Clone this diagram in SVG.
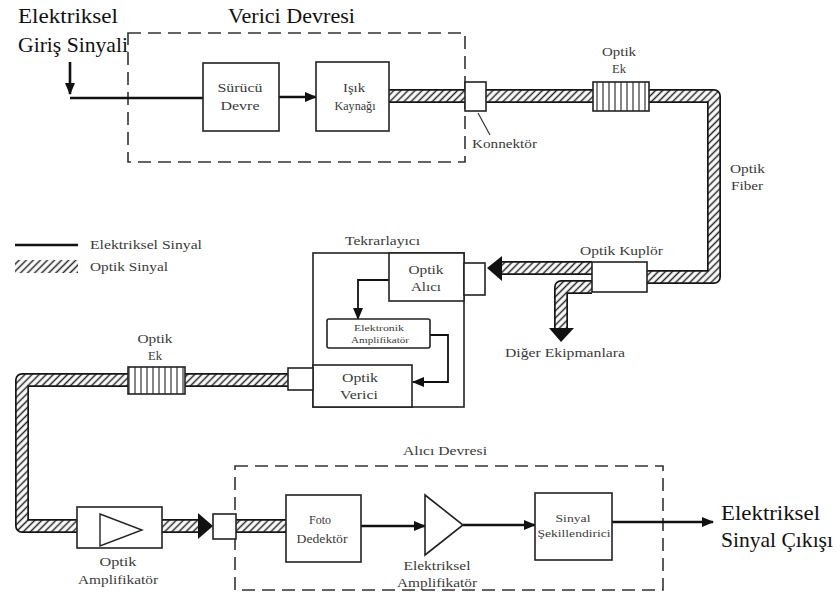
<svg xmlns="http://www.w3.org/2000/svg" width="840" height="597" viewBox="0 0 840 597" font-family="Liberation Serif, DejaVu Serif, serif">
<style>
text{fill:#3a3a3a;font-size:12.5px}
.big{font-size:22px;fill:#111}
.sm{font-size:11.5px;text-anchor:middle}
.mid{text-anchor:middle}
.box{fill:#fff;stroke:#222;stroke-width:1.6}
.dash{fill:none;stroke:#333;stroke-width:1.6;stroke-dasharray:13 7}
.fo{fill:none;stroke:#151515;stroke-width:14;stroke-linejoin:round}
.fi{fill:none;stroke:url(#hatch);stroke-width:10.6;stroke-linejoin:round}
.el{fill:none;stroke:#111;stroke-width:2.6}
.ek{fill:url(#stripes);stroke:#222;stroke-width:1.6}
</style>
<defs>
<pattern id="hatch" patternUnits="userSpaceOnUse" width="5" height="5" patternTransform="rotate(45)">
<rect width="5" height="5" fill="#fff"/>
<line x1="2.5" y1="0" x2="2.5" y2="5" stroke="#222" stroke-width="1.5"/>
</pattern>
<pattern id="stripes" patternUnits="userSpaceOnUse" width="6" height="6">
<rect width="6" height="6" fill="#fff"/>
<line x1="3" y1="0" x2="3" y2="6" stroke="#333" stroke-width="1.2"/>
</pattern>
<marker id="arr" markerUnits="userSpaceOnUse" markerWidth="12" markerHeight="10" refX="11" refY="5" orient="auto">
<path d="M0,0 L12,5 L0,10 Z" fill="#111"/>
</marker>
</defs>

<g id="titles">
<text class="big" x="18" y="23" textLength="100" lengthAdjust="spacingAndGlyphs">Elektriksel</text>
<text class="big" x="18" y="52" textLength="110" lengthAdjust="spacingAndGlyphs">Giriş Sinyali</text>
<text class="big" x="228" y="23" textLength="127" lengthAdjust="spacingAndGlyphs">Verici Devresi</text>
<text class="big" x="721" y="520" textLength="99" lengthAdjust="spacingAndGlyphs">Elektriksel</text>
<text class="big" x="721" y="547" textLength="112" lengthAdjust="spacingAndGlyphs">Sinyal Çıkışı</text>
</g>

<g id="legend">
<line x1="15" y1="245" x2="78" y2="245" stroke="#111" stroke-width="2.6"/>
<rect x="15" y="260" width="63" height="13" fill="url(#hatch)"/>
<text x="90" y="249" textLength="112" lengthAdjust="spacingAndGlyphs">Elektriksel Sinyal</text>
<text x="90" y="271" textLength="78" lengthAdjust="spacingAndGlyphs">Optik Sinyal</text>
</g>

<g id="verici-devresi">
<rect class="dash" x="128" y="33" width="337" height="129"/>
</g>
<g id="alici-devresi">
<rect class="dash" x="235" y="466" width="428" height="124"/>
<text x="403" y="455" textLength="84" lengthAdjust="spacingAndGlyphs">Alıcı Devresi</text>
</g>
<g id="tekrarlayici">
<rect x="313" y="253" width="151" height="154" fill="none" stroke="#222" stroke-width="1.6"/>
<text x="345" y="245" textLength="75" lengthAdjust="spacingAndGlyphs">Tekrarlayıcı</text>
</g>

<g id="connectors">
<path class="fo" d="M389,96 H465"/><path class="fi" d="M389,96 H465"/>
<path class="fo" d="M486,96 H593"/><path class="fi" d="M486,96 H593"/>
<path class="fo" d="M649,96 H714 V277 H647"/><path class="fi" d="M649,96 H714 V277 H647"/>
<path class="fo" d="M592,268 H500"/><path class="fi" d="M592,268 H500"/>
<path class="fo" d="M592,287 H561 V330"/><path class="fi" d="M592,287 H561 V330"/>
<path class="fo" d="M288,380 H185"/><path class="fi" d="M288,380 H185"/>
<path class="fo" d="M128,380 H22 V526 H77"/><path class="fi" d="M128,380 H22 V526 H77"/>
<path class="fo" d="M162,526 H199"/><path class="fi" d="M162,526 H199"/>
<path class="fo" d="M236,526 H286"/><path class="fi" d="M236,526 H286"/>
<polygon points="487,268 502,256 502,281" fill="#111"/>
<polygon points="561,342 549,328 574,328" fill="#111"/>
<polygon points="213,526 198,513 198,539" fill="#111"/>
<path class="el" d="M70,62 V94" marker-end="url(#arr)"/>
<path class="el" d="M70,98 H203"/>
<path class="el" d="M279,97 H316" marker-end="url(#arr)"/>
<path d="M389,280 H358 V319" fill="none" stroke="#111" stroke-width="1.8" marker-end="url(#arr)"/>
<path d="M430,335 H448 V382 H413" fill="none" stroke="#111" stroke-width="1.8" marker-end="url(#arr)"/>
<path class="el" d="M361,526 H425" marker-end="url(#arr)"/>
<path class="el" d="M463,525 H535" marker-end="url(#arr)"/>
<path class="el" d="M612,522 H713" marker-end="url(#arr)"/>
<line x1="478" y1="113" x2="490" y2="135" stroke="#333" stroke-width="1.2"/>
</g>

<g id="surucu-devre">
<rect class="box" x="203" y="63" width="76" height="68"/>
<text class="sm" x="240" y="92" textLength="45" lengthAdjust="spacingAndGlyphs">Sürücü</text>
<text class="sm" x="240" y="110" textLength="39" lengthAdjust="spacingAndGlyphs">Devre</text>
</g>
<g id="isik-kaynagi">
<rect class="box" x="316" y="62" width="73" height="69"/>
<text class="sm" x="354" y="92" textLength="22" lengthAdjust="spacingAndGlyphs">Işık</text>
<text class="sm" x="355" y="110" textLength="41" lengthAdjust="spacingAndGlyphs">Kaynağı</text>
</g>
<g id="konnektor">
<rect class="box" x="465" y="82" width="21" height="29"/>
<text x="472" y="148" textLength="65" lengthAdjust="spacingAndGlyphs">Konnektör</text>
</g>
<g id="optik-ek-1">
<rect class="ek" x="593" y="82" width="56" height="29"/>
<text class="mid" x="619" y="56" textLength="34" lengthAdjust="spacingAndGlyphs">Optik</text>
<text class="mid" x="619" y="73">Ek</text>
</g>
<g id="optik-fiber">
<text x="730" y="173" textLength="35" lengthAdjust="spacingAndGlyphs">Optik</text>
<text x="731" y="190" textLength="32" lengthAdjust="spacingAndGlyphs">Fiber</text>
</g>
<g id="optik-kuplor">
<rect class="box" x="592" y="262" width="55" height="30"/>
<text x="580" y="255" textLength="83" lengthAdjust="spacingAndGlyphs">Optik Kuplör</text>
</g>
<g id="diger">
<text x="505" y="357" textLength="120" lengthAdjust="spacingAndGlyphs">Diğer Ekipmanlara</text>
</g>

<g id="optik-alici">
<rect class="box" x="389" y="253" width="75" height="48"/>
<text class="mid" x="426" y="274" textLength="35" lengthAdjust="spacingAndGlyphs">Optik</text>
<text class="mid" x="426" y="291" textLength="30" lengthAdjust="spacingAndGlyphs">Alıcı</text>
</g>
<g id="rep-konnektor-in">
<rect class="box" x="464" y="263" width="21" height="32"/>
</g>
<g id="elektronik-amplifikator">
<rect class="box" x="327" y="319" width="103" height="29" rx="2"/>
<text x="379" y="331" style="font-size:8.5px;text-anchor:middle" textLength="50" lengthAdjust="spacingAndGlyphs">Elektronik</text>
<text x="380" y="343" style="font-size:8.5px;text-anchor:middle" textLength="58" lengthAdjust="spacingAndGlyphs">Amplifikatör</text>
</g>
<g id="optik-verici">
<rect class="box" x="313" y="365" width="99" height="42"/>
<text class="mid" x="360" y="382" textLength="36" lengthAdjust="spacingAndGlyphs">Optik</text>
<text class="mid" x="359" y="399" textLength="38" lengthAdjust="spacingAndGlyphs">Verici</text>
</g>
<g id="rep-konnektor-out">
<rect class="box" x="288" y="368" width="25" height="22"/>
</g>
<g id="optik-ek-2">
<rect class="ek" x="128" y="367" width="57" height="27"/>
<text class="mid" x="155" y="343" textLength="35" lengthAdjust="spacingAndGlyphs">Optik</text>
<text class="mid" x="155" y="360">Ek</text>
</g>

<g id="optik-amplifikator">
<rect class="box" x="77" y="507" width="85" height="41"/>
<polygon points="100,514 142,530 100,546" fill="none" stroke="#222" stroke-width="1.4"/>
<text class="mid" x="118" y="566" textLength="37" lengthAdjust="spacingAndGlyphs">Optik</text>
<text class="mid" x="118" y="584" textLength="80" lengthAdjust="spacingAndGlyphs">Amplifikatör</text>
</g>
<g id="alici-konnektor">
<rect class="box" x="213" y="514" width="23" height="25"/>
</g>
<g id="foto-dedektor">
<rect class="box" x="286" y="495" width="75" height="67"/>
<text class="sm" x="320" y="524" textLength="22" lengthAdjust="spacingAndGlyphs">Foto</text>
<text class="sm" x="322" y="543" textLength="51" lengthAdjust="spacingAndGlyphs">Dedektör</text>
</g>
<g id="elektriksel-amplifikator">
<polygon points="425,495 463,525 425,555" fill="#fff" stroke="#222" stroke-width="1.6"/>
<text class="mid" x="437" y="570" textLength="67" lengthAdjust="spacingAndGlyphs">Elektriksel</text>
<text class="mid" x="437" y="587" textLength="80" lengthAdjust="spacingAndGlyphs">Amplifikatör</text>
</g>
<g id="sinyal-sekillendirici">
<rect class="box" x="535" y="493" width="77" height="67"/>
<text x="573" y="522" style="font-size:10.5px;text-anchor:middle" textLength="35" lengthAdjust="spacingAndGlyphs">Sinyal</text>
<text x="574" y="537" style="font-size:10.5px;text-anchor:middle" textLength="73" lengthAdjust="spacingAndGlyphs">Şekillendirici</text>
</g>
</svg>
